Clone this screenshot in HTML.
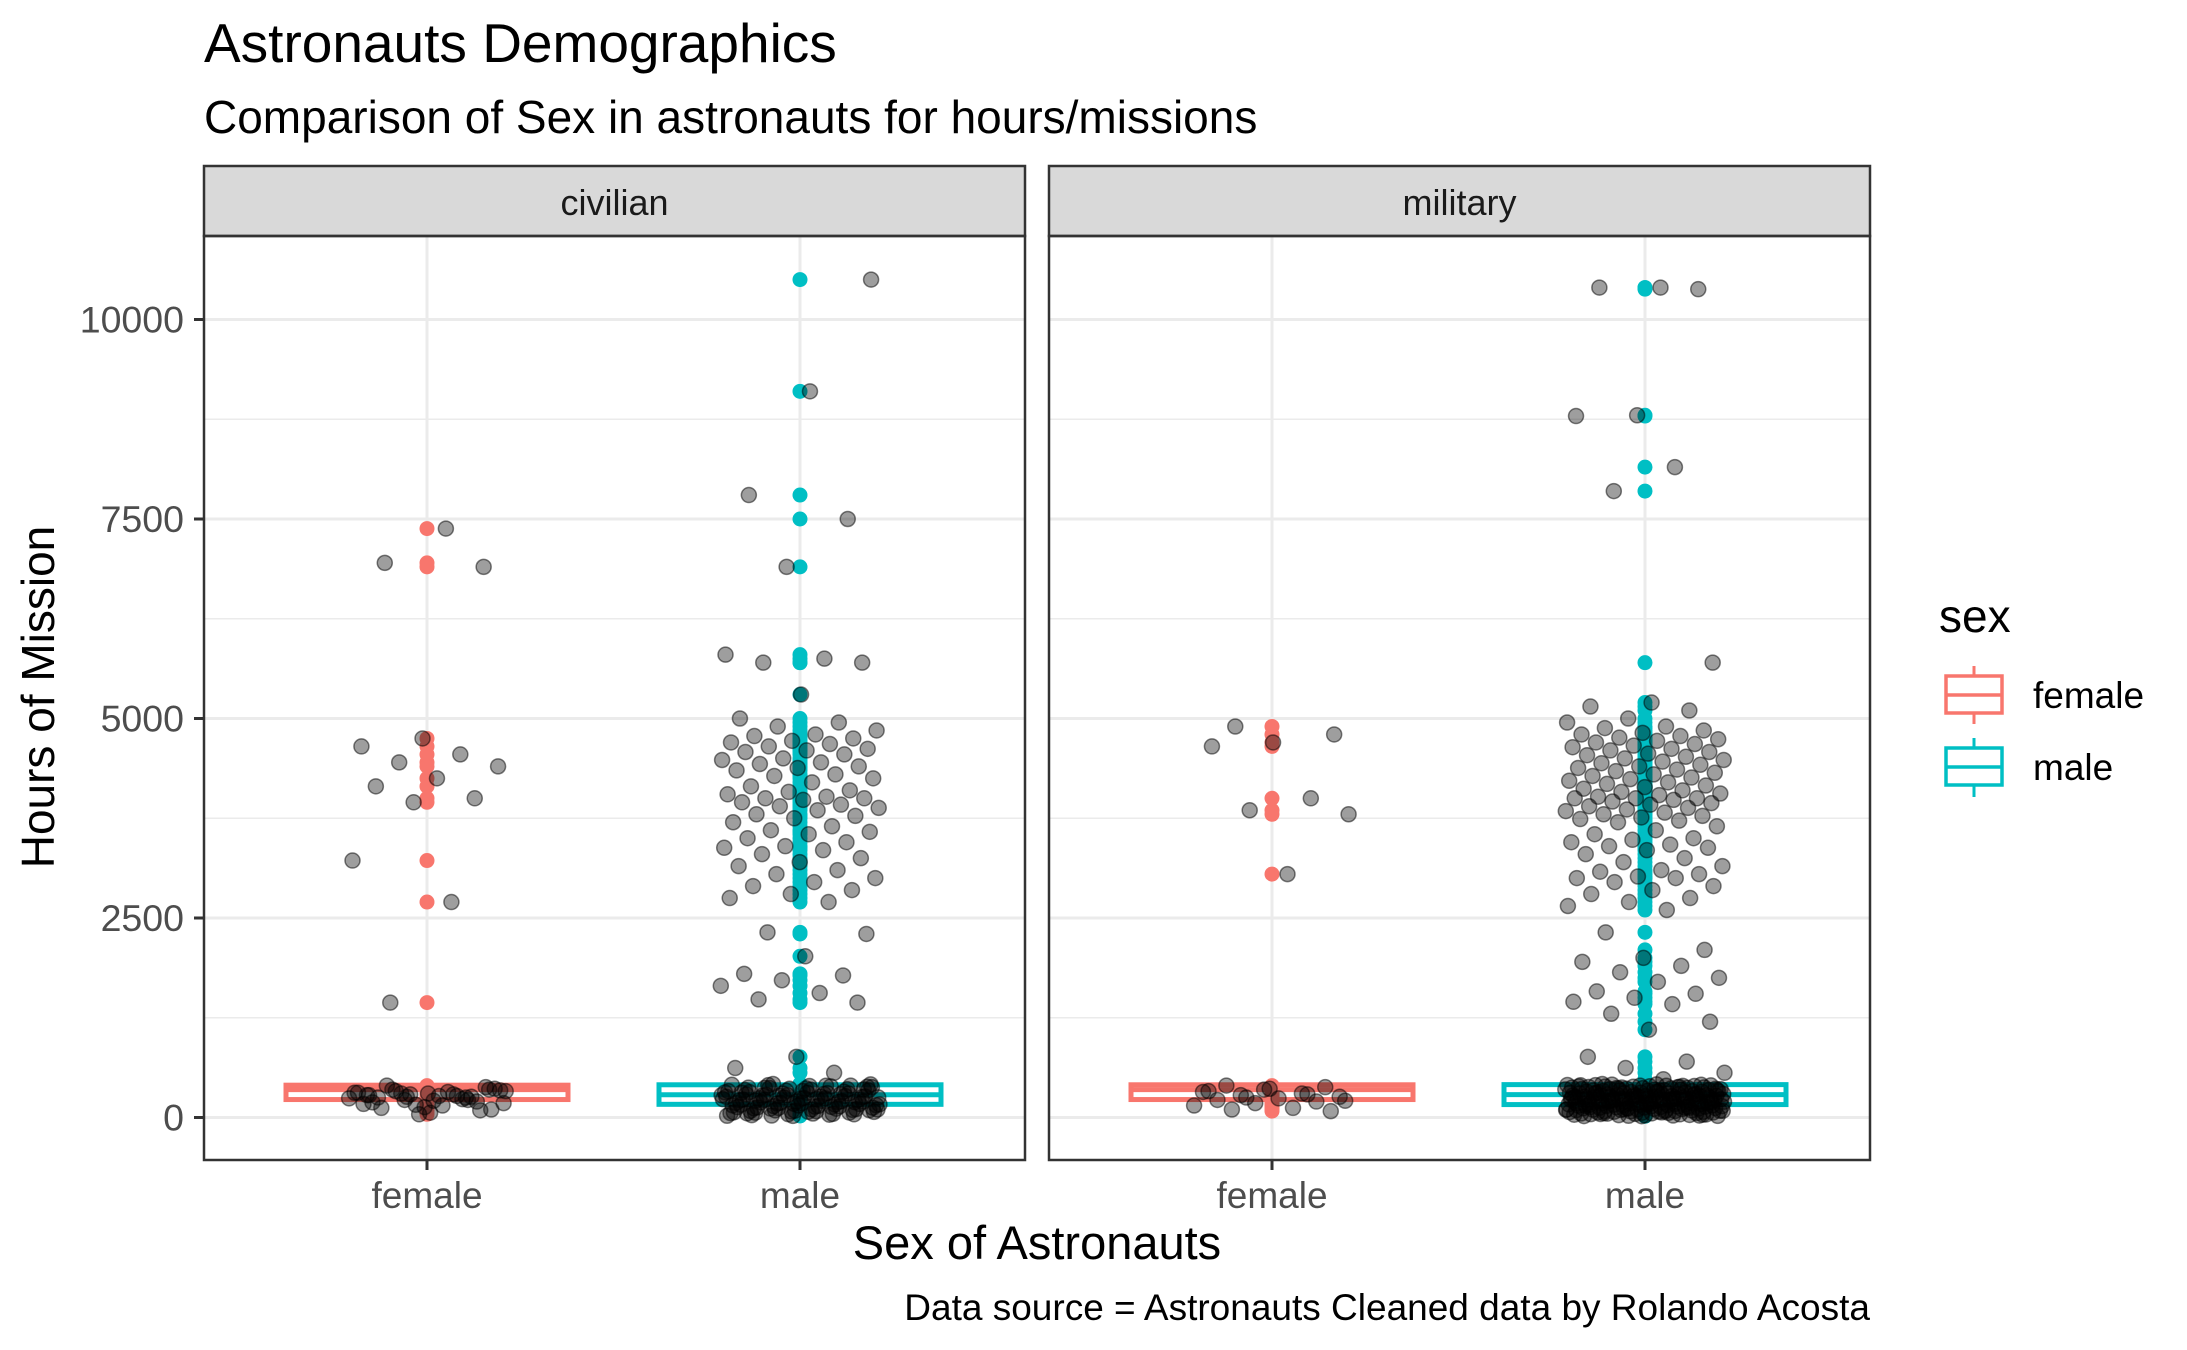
<!DOCTYPE html>
<html><head><meta charset="utf-8">
<style>
html,body{margin:0;padding:0;background:#fff;}
svg{display:block;font-family:"Liberation Sans",Arial,sans-serif;}
</style></head>
<body>
<svg id="chart" width="2187" height="1350" viewBox="0 0 2187 1350">
<text x="204" y="62" font-size="55" fill="#000">Astronauts Demographics</text>
<text x="204" y="133" font-size="46" fill="#000">Comparison of Sex in astronauts for hours/missions</text>
<g id="panels"></g>
<text x="1037" y="1259" font-size="47" text-anchor="middle" fill="#000">Sex of Astronauts</text>
<text transform="translate(54,697) rotate(-90)" font-size="46" text-anchor="middle" fill="#000">Hours of Mission</text>
<text x="1870" y="1320" font-size="37" text-anchor="end" fill="#000">Data source = Astronauts Cleaned data by Rolando Acosta</text>
<g>
<text x="1939" y="632" font-size="46" fill="#000">sex</text>
<g>
<line x1="1974" y1="666" x2="1974" y2="724" stroke="#F8766D" stroke-width="3"/>
<rect x="1946" y="676" width="56" height="37" fill="#fff" stroke="#F8766D" stroke-width="3.5"/>
<line x1="1946" y1="695" x2="2002" y2="695" stroke="#F8766D" stroke-width="3.5"/>
<text x="2033" y="708" font-size="37" fill="#000">female</text>
</g>
<g>
<line x1="1974" y1="738" x2="1974" y2="797" stroke="#00BFC4" stroke-width="3"/>
<rect x="1946" y="748" width="56" height="37" fill="#fff" stroke="#00BFC4" stroke-width="3.5"/>
<line x1="1946" y1="767" x2="2002" y2="767" stroke="#00BFC4" stroke-width="3.5"/>
<text x="2033" y="780" font-size="37" fill="#000">male</text>
</g>
</g>
</svg>
<script>
const panelNames = ["civilian","military"];
const categories = ["female","male"];
const yTicks = [0,2500,5000,7500,10000];
const yMinor = [1250,3750,6250,8750];

const civFemale = [7380,6950,6900,4750,4650,4550,4450,4400,4250,4150,4000,3950,3220,2700,1440,
350,300,280,250,220,180,150,120,90,40,310,270,330,360,210,190,260,290,240,320,400,380,130,170,230,300,340,270,250,200,160,310,290,350,100,60,280,220,260,330];
const civMale = [10500,9100,7800,7500,6900,5800,5750,5700,5700,5300,5000,4950,4900,4850,4800,4780,4750,4720,4700,4680,4650,4620,4600,4580,4550,4500,4480,4450,4430,4400,4380,4350,4300,4280,4250,4200,4150,4100,4080,4050,4020,4000,4000,3980,3950,3920,3900,3880,3850,3800,3780,3750,3700,3650,3600,3580,3550,3500,3450,3400,3380,3350,3300,3250,3200,3150,3100,3050,3000,2950,2900,2850,2800,2750,2700,2320,2300,2020,1800,1780,1720,1650,1560,1480,1440,760,620,560,
420,380,350,320,300,280,260,240,220,200,180,160,140,120,100,80,60,40,20,410,390,370,340,310,290,270,250,230,210,190,170,150,130,110,90,70,50,30,400,360,330,305,285,265,245,225,205,185,165,145,125,105,85,65,45,25,415,395,375,355,335,315,295,275,255,235,215,195,175,155,135,115,95,75,55,35,405,385,365,345,325,300,280,262,242,222,202,182,162,142,122,102,82,62,42,22,398,372,352,332,312,292,272,252,232,212,192,172,152,132,112,92,72,52];
const milFemale = [4900,4800,4700,4650,4000,3850,3800,3050,
400,380,350,320,300,280,260,240,220,200,180,150,120,100,80,360,330,290,250,210];
const milMale = [10400,10400,10380,8800,8790,8150,7850,5700,5200,5150,5100,5000,4950,4900,4880,4850,4820,4800,4780,4760,4740,4720,4700,4680,4660,4640,4620,4600,4580,4560,4540,4520,4500,4480,4460,4440,4420,4400,4380,4360,4340,4320,4300,4280,4260,4240,4220,4200,4180,4160,4140,4120,4100,4080,4060,4040,4020,4000,4000,4000,3980,3960,3940,3920,3900,3880,3860,3840,3820,3800,3780,3760,3740,3720,3700,3650,3600,3550,3500,3480,3450,3420,3400,3380,3350,3300,3250,3200,3150,3100,3080,3050,3020,3000,3000,2950,2900,2850,2800,2750,2700,2650,2600,
2320,2100,2000,1950,1900,1820,1750,1700,1580,1550,1500,1450,1420,1300,1200,1100,760,700,620,560,480,
420,410,400,390,380,370,360,350,340,330,320,310,300,290,280,270,260,250,240,230,220,210,200,190,180,170,160,150,140,130,120,110,100,90,80,70,60,50,40,30,20,
415,405,395,385,375,365,355,345,335,325,315,305,295,285,275,265,255,245,235,225,215,205,195,185,175,165,155,145,135,125,115,105,95,85,75,65,55,45,35,25,
412,402,392,382,372,362,352,342,332,322,312,302,292,282,272,262,252,242,232,222,212,202,192,182,172,162,152,142,132,122,112,102,92,82,72,62,52,42,32,22,
408,398,388,378,368,358,348,338,328,318,308,298,288,278,268,258,248,238,228,218,208,198,188,178,168,158,148,138,128,118,108,98,88,78,68,58,48,38,28,18,
396,376,356,336,316,296,276,256,236,216,196,176,156,136,116,96,76,56,36,16,
404,384,364,344,324,304,284,264,244,224,204,184,164,144,124,104,84,64,44,24];

// box stats per group: [lowWhisker, q1, median, q3, highWhisker]
const boxCivFemale = [40,225,350,405,420];
const boxCivMale = [20,165,285,410,760];
const boxMilFemale = [80,225,350,410,420];
const boxMilMale = [16,162,287,412,760];

const groups = [
  {panel:0, cat:0, values:civFemale, box:boxCivFemale, color:"#F8766D"},
  {panel:0, cat:1, values:civMale, box:boxCivMale, color:"#00BFC4"},
  {panel:1, cat:0, values:milFemale, box:boxMilFemale, color:"#F8766D"},
  {panel:1, cat:1, values:milMale, box:boxMilMale, color:"#00BFC4"}
];

const NS = "http://www.w3.org/2000/svg";
const panelLeft = [204,1049], panelW = 821, plotTop = 236, plotBot = 1160, stripTop = 166;
const catOffset = [223,596];
function yScale(v){ return 1117.5 - v*0.0798; }
function xScale(p,c){ return panelLeft[p] + catOffset[c]; }
function mk(tag, attrs, parent){
  const e = document.createElementNS(NS, tag);
  for (const k in attrs) e.setAttribute(k, attrs[k]);
  parent.appendChild(e); return e;
}
const root = document.getElementById("panels");

panelNames.forEach((name,p)=>{
  const g = mk("g",{},root);
  
  
  const L = panelLeft[p];
  mk("rect",{x:L,y:plotTop,width:panelW,height:plotBot-plotTop,fill:"#fff"},g);
  yMinor.forEach(v=>{ mk("line",{x1:L,x2:L+panelW,y1:yScale(v),y2:yScale(v),stroke:"#ebebeb","stroke-width":1.6},g); });
  yTicks.forEach(v=>{
    const ln = mk("line",{x1:L,x2:L+panelW,y1:yScale(v),y2:yScale(v),stroke:"#ebebeb","stroke-width":3},g);
    
    
  });
  categories.forEach((c,ci)=>{
    mk("line",{x1:xScale(p,ci),x2:xScale(p,ci),y1:plotTop,y2:plotBot,stroke:"#ebebeb","stroke-width":3},g);
  });
  const st = mk("rect",{x:L,y:stripTop,width:panelW,height:plotTop-stripTop,fill:"#d9d9d9",stroke:"#333","stroke-width":2.5},g);
  
  
  const stt = mk("text",{x:L+panelW/2,y:215,"font-size":36,"text-anchor":"middle",fill:"#1a1a1a"},g);
  stt.textContent = name;
  
  
  categories.forEach((c,ci)=>{
    mk("line",{x1:xScale(p,ci),x2:xScale(p,ci),y1:plotBot,y2:plotBot+10,stroke:"#333","stroke-width":3},g);
    const t = mk("text",{x:xScale(p,ci),y:1208,"font-size":37,"text-anchor":"middle",fill:"#4d4d4d"},g);
    t.textContent = c;
    
    
  });
});

yTicks.forEach(v=>{
  mk("line",{x1:194,x2:204,y1:yScale(v),y2:yScale(v),stroke:"#333","stroke-width":3},root);
  const t = mk("text",{x:184,y:yScale(v)+13,"font-size":37.5,"text-anchor":"end",fill:"#4d4d4d"},root);
  t.textContent = v;
  
  
});

groups.forEach((gr,gi)=>{
  const g = mk("g",{},root);
  
  
  const cx = xScale(gr.panel, gr.cat), hw = 141, b = gr.box;
  mk("line",{x1:cx,x2:cx,y1:yScale(b[0]),y2:yScale(b[1]),stroke:gr.color,"stroke-width":3},g);
  mk("line",{x1:cx,x2:cx,y1:yScale(b[3]),y2:yScale(b[4]),stroke:gr.color,"stroke-width":3},g);
  mk("rect",{x:cx-hw,y:yScale(b[3]),width:2*hw,height:yScale(b[1])-yScale(b[3]),fill:"#fff",stroke:gr.color,"stroke-width":5},g);
  mk("line",{x1:cx-hw,x2:cx+hw,y1:yScale(b[2]),y2:yScale(b[2]),stroke:gr.color,"stroke-width":5},g);
  gr.values.forEach(v=>{
    const c = mk("circle",{cx:cx,cy:yScale(v),r:7.5,fill:gr.color},g);
    
    
  });
});
groups.forEach((gr,gi)=>{
  const g = mk("g",{},root);
  
  
  const cx = xScale(gr.panel, gr.cat);
  gr.values.forEach((v,i)=>{
    const j = (((i+1+gi*7)*0.6180339887)%1)*2-1;
    const c = mk("circle",{cx:cx+j*80,cy:yScale(v),r:7.5,fill:"rgba(0,0,0,0.38)",stroke:"rgba(0,0,0,0.5)","stroke-width":1.5},g);
    
    
  });
});
panelNames.forEach((name,p)=>{
  const r = mk("rect",{x:panelLeft[p],y:plotTop,width:panelW,height:plotBot-plotTop,fill:"none",stroke:"#333","stroke-width":2.5},root);
  
  
});
</script>
</body></html>
